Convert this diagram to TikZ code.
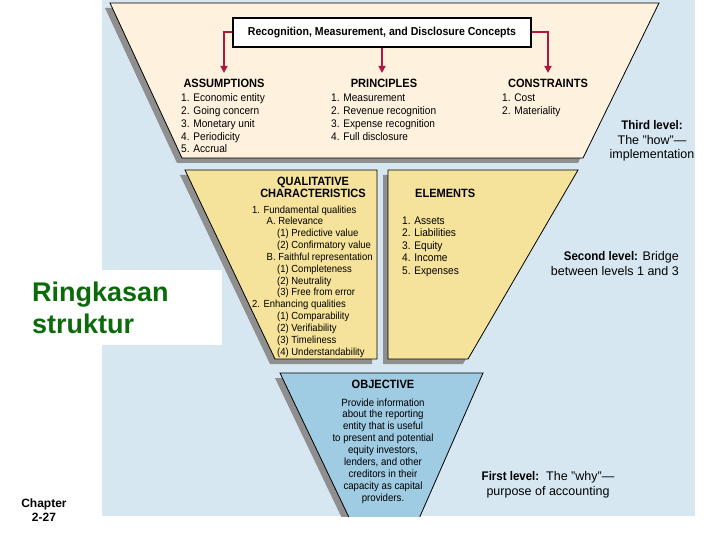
\documentclass[tikz,border=0pt]{standalone}
\usepackage{fontspec}
\setmainfont{Liberation Sans}
\newfontfamily\cond[FakeStretch=0.92]{Liberation Sans}
\usetikzlibrary{arrows.meta}
\definecolor{bgblue}{HTML}{D6E7F1}
\definecolor{beige}{HTML}{FEF1DE}
\definecolor{yel}{HTML}{F6E39B}
\definecolor{objblue}{HTML}{9FCBE3}
\definecolor{shad}{HTML}{8F8F8F}
\definecolor{arrred}{HTML}{B0163F}
\definecolor{dgreen}{HTML}{0B6B0B}
\tikzset{
  shadowfill/.style={fill=shad, shift={(-5,5)}},
  panel/.style={draw=black, line width=0.8pt},
  arr/.style={draw=arrred, line width=2pt, -{Triangle[length=7pt,width=7pt]}, shorten >=5pt},
  heading/.style={font=\cond\bfseries\fontsize{12}{12}\selectfont, inner sep=1pt, anchor=base},
  listtxt/.style={font=\cond\fontsize{11}{12.75}\selectfont, align=left, anchor=base west, inner sep=0pt},
  qlist/.style={font=\cond\fontsize{10.3}{11.83}\selectfont, align=left, anchor=base west, inner sep=0pt},
  objtxt/.style={font=\cond\fontsize{10.5}{11.9}\selectfont, align=center, anchor=base, inner sep=0pt},
  sidelab/.style={font=\fontsize{12.5}{14.5}\selectfont, inner sep=0pt}
}
\newcommand{\bsd}[1]{{\cond\bfseries #1}}
\begin{document}
\begin{tikzpicture}[x=1pt,y=-1pt]
\useasboundingbox (0,0) rectangle (720,540);
\fill[white] (0,0) rectangle (720,540);
\fill[bgblue] (102,0) rectangle (695,516);

\begin{scope}
\clip (102,0) rectangle (695,516);
% shadows
\fill[shadowfill] (110,3) -- (659,3) -- (583,158) -- (182,158) -- cycle;
\fill[shadowfill] (185,170) -- (377,170) -- (377,359) -- (275,359) -- cycle;
\fill[shadowfill] (388,170) -- (578,170) -- (468,359) -- (388,359) -- cycle;
\fill[shadowfill] (280,373) -- (483,373) -- (414,530) -- (355,530) -- cycle;
% panels
\filldraw[panel, fill=beige] (110,3) -- (659,3) -- (583,158) -- (182,158) -- cycle;
\filldraw[panel, fill=yel] (185,170) -- (377,170) -- (377,359) -- (275,359) -- cycle;
\filldraw[panel, fill=yel] (388,170) -- (578,170) -- (468,359) -- (388,359) -- cycle;
\filldraw[panel, fill=objblue] (280,373) -- (483,373) -- (414,530) -- (355,530) -- cycle;
\end{scope}

% third level
\node[draw=black, line width=1.2pt, fill=white, minimum width=298pt, minimum height=29pt,
  inner sep=0pt, font=\cond\bfseries\fontsize{11.5}{13}\selectfont] (hdr) at (382,32.5)
  {Recognition, Measurement, and Disclosure Concepts};
\node[heading] (assum) at (224,87.5) {ASSUMPTIONS};
\node[heading] (princ) at (384,87.5) {PRINCIPLES};
\node[heading] (constr) at (548,87.5) {CONSTRAINTS};
\draw[arr] (hdr.west) -| (assum.north);
\draw[arr] (hdr.south) -- (hdr.south |- princ.north);
\draw[arr] (hdr.east) -| (constr.north);

% (multi-line nodes: base anchor = last line's baseline)
\node[listtxt] (alist) at (181,153) {1. Economic entity\\2. Going concern\\3. Monetary unit\\4. Periodicity\\5. Accrual};
\node[listtxt] (plist) at (331,140.25) {1. Measurement\\2. Revenue recognition\\3. Expense recognition\\4. Full disclosure};
\node[listtxt] (clist) at (502,114.75) {1. Cost\\2. Materiality};

% second level
\node[heading, align=center, font=\cond\bfseries\fontsize{12}{12}\selectfont] (qual) at (313,198) {QUALITATIVE\\CHARACTERISTICS};
\node[qlist] (qlst) at (252,355) {1. Fundamental qualities\\
\hspace*{14.5pt}A. Relevance\\
\hspace*{25pt}(1) Predictive value\\
\hspace*{25pt}(2) Confirmatory value\\
\hspace*{14.5pt}B. Faithful representation\\
\hspace*{25pt}(1) Completeness\\
\hspace*{25pt}(2) Neutrality\\
\hspace*{25pt}(3) Free from error\\
2. Enhancing qualities\\
\hspace*{25pt}(1) Comparability\\
\hspace*{25pt}(2) Verifiability\\
\hspace*{25pt}(3) Timeliness\\
\hspace*{25pt}(4) Understandability};
\node[heading, anchor=base west] (elem) at (414,198) {ELEMENTS};
\node[listtxt, font=\cond\fontsize{11}{12.5}\selectfont] (elst) at (402,274) {1. Assets\\2. Liabilities\\3. Equity\\4. Income\\5. Expenses};

% first level
\node[heading] (obj) at (383,388) {OBJECTIVE};
\node[objtxt] (otxt) at (383,501.2) {Provide information\\about the reporting\\entity that is useful\\to present and potential\\equity investors,\\lenders, and other\\creditors in their\\capacity as capital\\providers.};

% side labels
\node[sidelab, align=center, anchor=base] (lev3) at (652,159) {\bsd{Third level:}\\The "how"—\\implementation};
\node[sidelab, align=right, anchor=base east] (lev2) at (679,275) {\bsd{Second level:} Bridge\\between levels 1 and 3};
\node[sidelab, align=center, anchor=base] (lev1) at (548,495) {\bsd{First level:}\ \ The "why"—\\purpose of accounting};

% left
\fill[white] (102,270) rectangle (222,345);
\node[font=\bfseries\fontsize{27}{32}\selectfont, text=dgreen, align=left, anchor=base west, inner sep=0pt] (title) at (32,333) {Ringkasan\\struktur};
\node[font=\bfseries\fontsize{12}{14}\selectfont, align=center, anchor=base, inner sep=0pt] (chap) at (44,521) {Chapter\\2-27};
\end{tikzpicture}
\end{document}
